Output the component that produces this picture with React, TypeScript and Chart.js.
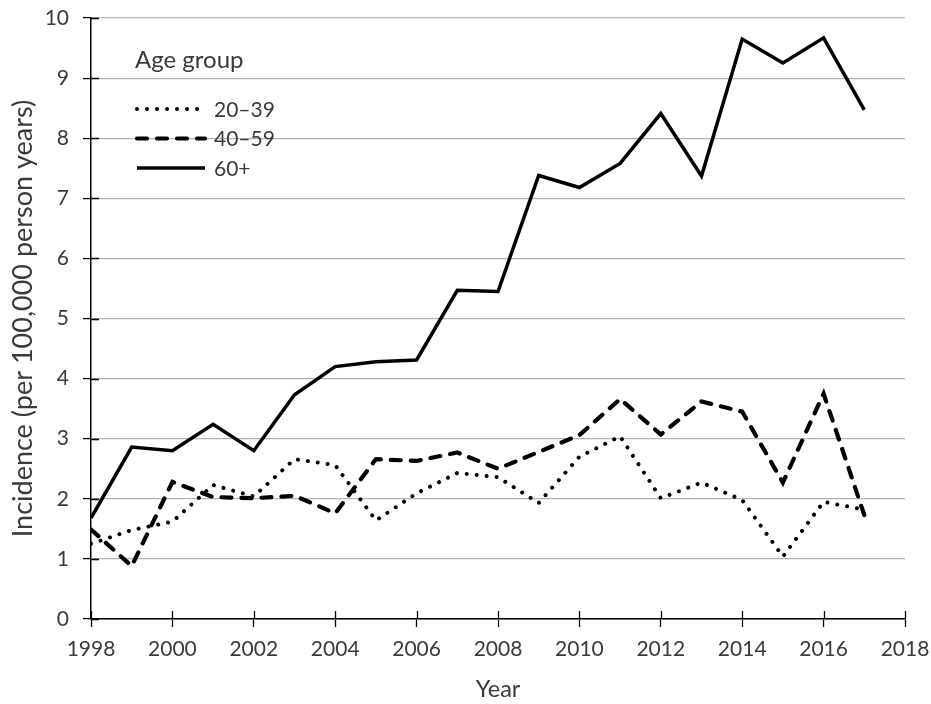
import React, { useEffect, useRef } from "react";
import { Chart, registerables } from "chart.js";

Chart.register(...registerables);

// Incidence per 100,000 person years, by age group
const years = [1998, 1999, 2000, 2001, 2002, 2003, 2004, 2005, 2006, 2007, 2008, 2009, 2010, 2011, 2012, 2013, 2014, 2015, 2016, 2017];
const age20to39 = [1.25, 1.48, 1.62, 2.23, 2.04, 2.66, 2.56, 1.64, 2.09, 2.43, 2.36, 1.93, 2.70, 3.04, 2.01, 2.27, 1.98, 1.04, 1.95, 1.82];
const age40to59 = [1.49, 0.88, 2.28, 2.03, 2.01, 2.05, 1.76, 2.66, 2.63, 2.77, 2.50, 2.78, 3.06, 3.66, 3.07, 3.62, 3.45, 2.27, 3.75, 1.73];
const age60plus = [1.68, 2.86, 2.80, 3.24, 2.80, 3.73, 4.20, 4.28, 4.31, 5.47, 5.45, 7.38, 7.18, 7.58, 8.41, 7.37, 9.65, 9.25, 9.67, 8.47];
const seriesLabels = ["20\u201339", "40\u201359", "60+"];
const legendTitle = "Age group";
const xTitle = "Year";
const yTitle = "Incidence (per 100,000 person years)";

const FONT = "Lato, 'Noto Sans', sans-serif";
const TEXT = "#3a3a3a";

const toPoints = (vals: number[]) => vals.map((v, i) => ({ x: years[i], y: v }));

// Short black tick marks that cross the axes into the plot area
const innerTicks = {
  id: "innerTicks",
  beforeDatasetsDraw(chart: any) {
    const { ctx, chartArea, scales } = chart;
    const len = 8;
    ctx.save();
    ctx.strokeStyle = "#000";
    ctx.lineWidth = 1.3;
    ctx.beginPath();
    scales.y.ticks.forEach((t: any) => {
      const py = Math.round(scales.y.getPixelForValue(t.value)) + 0.5;
      ctx.moveTo(chartArea.left, py);
      ctx.lineTo(chartArea.left + len, py);
    });
    scales.x.ticks.forEach((t: any) => {
      const px = Math.round(scales.x.getPixelForValue(t.value)) + 0.5;
      ctx.moveTo(px, chartArea.bottom);
      ctx.lineTo(px, chartArea.bottom - len);
    });
    ctx.stroke();
    ctx.restore();
  },
};

// Titled legend placed inside the plot area
const boxedLegend = {
  id: "boxedLegend",
  afterDraw(chart: any) {
    const { ctx, chartArea } = chart;
    const x0 = chartArea.left + 44;
    const lineLen = 70;
    ctx.save();
    ctx.fillStyle = TEXT;
    ctx.textAlign = "left";
    ctx.textBaseline = "alphabetic";
    ctx.font = `24px ${FONT}`;
    ctx.fillText(legendTitle, x0, chartArea.top + 50);
    ctx.font = `21px ${FONT}`;
    ctx.textBaseline = "middle";
    chart.data.datasets.forEach((ds: any, i: number) => {
      const y = chartArea.top + 91 + i * 29.5;
      ctx.save();
      ctx.strokeStyle = ds.borderColor;
      ctx.lineWidth = ds.borderWidth;
      ctx.lineCap = ds.borderCapStyle || "butt";
      ctx.setLineDash(ds.borderDash || []);
      ctx.beginPath();
      ctx.moveTo(x0 + 2, y);
      ctx.lineTo(x0 + lineLen, y);
      ctx.stroke();
      ctx.restore();
      ctx.fillText(ds.label, x0 + lineLen + 9, y + 1);
    });
    ctx.restore();
  },
};

export default function App() {
  const ref = useRef<HTMLCanvasElement | null>(null);

  useEffect(() => {
    if (!ref.current) return;
    const chart = new Chart(ref.current, {
      type: "line",
      data: {
        datasets: [
          {
            label: seriesLabels[0],
            data: toPoints(age20to39),
            borderColor: "#000",
            borderWidth: 4,
            borderDash: [0.01, 10],
            borderCapStyle: "round",
            pointRadius: 0,
            tension: 0,
          },
          {
            label: seriesLabels[1],
            data: toPoints(age40to59),
            borderColor: "#000",
            borderWidth: 4.2,
            borderDash: [10, 10],
            borderCapStyle: "round",
            pointRadius: 0,
            tension: 0,
          },
          {
            label: seriesLabels[2],
            data: toPoints(age60plus),
            borderColor: "#000",
            borderWidth: 3.5,
            borderCapStyle: "butt",
            pointRadius: 0,
            tension: 0,
          },
        ],
      },
      options: {
        animation: false,
        responsive: false,
        maintainAspectRatio: false,
        layout: { padding: { top: 18, right: 26, left: 0, bottom: 0 } },
        plugins: { legend: { display: false }, tooltip: { enabled: false } },
        scales: {
          x: {
            type: "linear",
            min: 1998,
            max: 2018,
            ticks: {
              stepSize: 2,
              color: TEXT,
              font: { family: FONT, size: 21 },
              padding: 10,
              callback: (v: any) => String(v),
            },
            grid: { drawOnChartArea: false, drawTicks: true, tickLength: 8, tickColor: "#000", tickWidth: 1.3 },
            border: { color: "#000", width: 1.5 },
            title: { display: true, text: xTitle, color: TEXT, font: { family: FONT, size: 23.5 }, padding: { top: 0, bottom: 0 } },
            afterFit: (s: any) => {
              s.height = 85;
              s.paddingLeft = 0;
              s.paddingRight = 0;
            },
          },
          y: {
            min: 0,
            max: 10,
            ticks: { stepSize: 1, color: TEXT, font: { family: FONT, size: 21 }, padding: 14 },
            grid: { color: "#b3b3b3", lineWidth: 1.2, drawTicks: true, tickLength: 8, tickColor: "#000", tickWidth: 1.3 },
            border: { color: "#000", width: 1.5 },
            title: { display: true, text: yTitle, color: TEXT, font: { family: FONT, size: 27 }, padding: { top: 7, bottom: 0 } },
            afterFit: (s: any) => {
              s.width = 91;
              s.paddingTop = 0;
              s.paddingBottom = 0;
            },
          },
        },
      },
      plugins: [innerTicks, boxedLegend],
    });
    return () => chart.destroy();
  }, []);

  return (
    <div style={{ position: "absolute", left: 0, top: 0, width: 931, height: 704, background: "#fff" }}>
      <canvas ref={ref} width={931} height={704} style={{ display: "block" }} />
    </div>
  );
}
